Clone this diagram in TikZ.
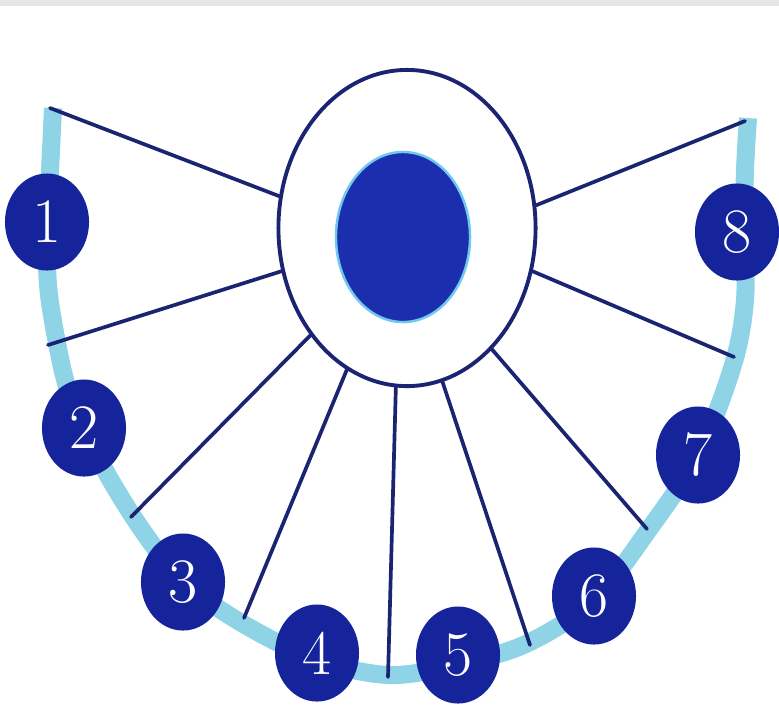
\documentclass[tikz,border=0pt]{standalone}
\usetikzlibrary{shapes.geometric}
\definecolor{band}{HTML}{8FD3E6}
\definecolor{navy}{HTML}{1B2472}
\definecolor{badgeblue}{HTML}{15249A}
\definecolor{coreblue}{HTML}{1B2EAE}
\definecolor{halo}{HTML}{70C8EE}
\definecolor{strip}{HTML}{E5E5E5}
\tikzset{
  badge/.style={ellipse, fill=badgeblue, text=white, minimum width=0.84cm, minimum height=0.97cm, inner sep=0pt, font=\fontsize{18}{18}\selectfont},
  spoke/.style={draw=navy, line width=1.05pt, line cap=round},
  ring/.style={ellipse, draw=navy, line width=1.1pt, fill=white, minimum width=2.57cm, minimum height=3.16cm, inner sep=0pt},
  core/.style={ellipse, fill=coreblue, draw=halo, line width=0.7pt, minimum width=1.34cm, minimum height=1.70cm, inner sep=0pt}
}
\begin{document}
\begin{tikzpicture}[x=0.01cm, y=-0.01cm]
\useasboundingbox (0,0) rectangle (779,711);
\fill[white] (0,0) rectangle (779,711);
\fill[strip] (0,0) rectangle (779,6);
% light blue band
\draw[band, line width=0.18cm, line cap=butt] plot[smooth, tension=0.55] coordinates {
 (53,108) (50,170) (47,222) (48,285) (57,343) (68,390) (84,428) (106,472) (132,515) (158,552) (185,584)
 (245,625) (317,660) (390,675) (460,664) (528,643) (594,600) (647,532) (698,455)
 (733,365) (745,300) (744,232) (745,170) (748,118)};
% outer ellipse and core
\node[ring] (E) at (407,228) {};
\node[core] (C) at (403,237) {};
% outer ends of spokes
\coordinate (a1) at (50,108);
\coordinate (a2) at (48,345);
\coordinate (a3) at (131,517);
\coordinate (a4) at (244,618);
\coordinate (a5) at (388,677);
\coordinate (a6) at (530,645);
\coordinate (a7) at (647,529);
\coordinate (a8) at (734,357);
\coordinate (a9) at (745,121);
\draw[spoke] (E.166.6) -- (a1);
\draw[spoke] (E.199.1) -- (a2);
\draw[spoke] (E.228.2) -- (a3);
\draw[spoke] (E.247.5) -- (a4);
\draw[spoke] (E.266.4) -- (a5);
\draw[spoke] (E.283.6) -- (a6);
\draw[spoke] (E.305.6) -- (a7);
\draw[spoke] (E.341.6) -- (a8);
\draw[spoke] (E.10.3) -- (a9);
% numbered badges
\node[badge] (n1) at (47,222) {1};
\node[badge] (n2) at (84,428) {2};
\node[badge] (n3) at (183,582) {3};
\node[badge] (n4) at (317,653) {4};
\node[badge] (n5) at (458,655) {5};
\node[badge] (n6) at (594,596) {6};
\node[badge] (n7) at (698,455) {7};
\node[badge] (n8) at (737,232) {8};
\end{tikzpicture}
\end{document}
